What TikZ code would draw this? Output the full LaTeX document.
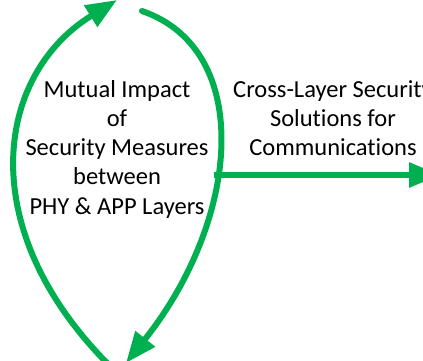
\documentclass[tikz,border=0pt]{standalone}
\usepackage{fontspec}
\setmainfont{Carlito}[Ligatures=NoCommon]
\usetikzlibrary{positioning,arrows.meta}
\definecolor{arrowgreen}{RGB}{0,176,80}

\begin{document}
\begin{tikzpicture}[x=1pt, y=-1pt,
                flow/.style={draw=arrowgreen, line width=6pt, -{Triangle[length=31pt, width=24pt]}},
                caption/.style={align=center, inner sep=0pt, font=\fontsize{24.5}{29.2}\selectfont}
            ]
                \useasboundingbox (0,0) rectangle (423,360);
                \clip (0,0) rectangle (423,360);

                % --- TEXTS ---
                \node[caption, anchor=north] (impact) at (117,80) {Mutual Impact\\of\\Security Measures\\between\\PHY \& APP Layers};
                \node[caption, anchor=north] (solution) at (333,80) {Cross-Layer Security\\Solutions for\\Communications};

                % --- END POINTS ---
                \coordinate (lowL) at (112,368);
                \coordinate (topL) at (117,0);
                \coordinate (topR) at (142,11);
                \coordinate (lowR) at (126,363);
                \coordinate (branch) at (214,175);
                \coordinate (outR) at (440,175);

                % --- ARROWS ---
                \draw[flow] (lowL) .. controls (-28,230) and (-5,75) .. (topL);
                \draw[flow, line cap=round] (topR) .. controls (255,50) and (240,220) .. (lowR);
                \draw[flow] (branch) -- (outR);
            \end{tikzpicture}
\end{document}
